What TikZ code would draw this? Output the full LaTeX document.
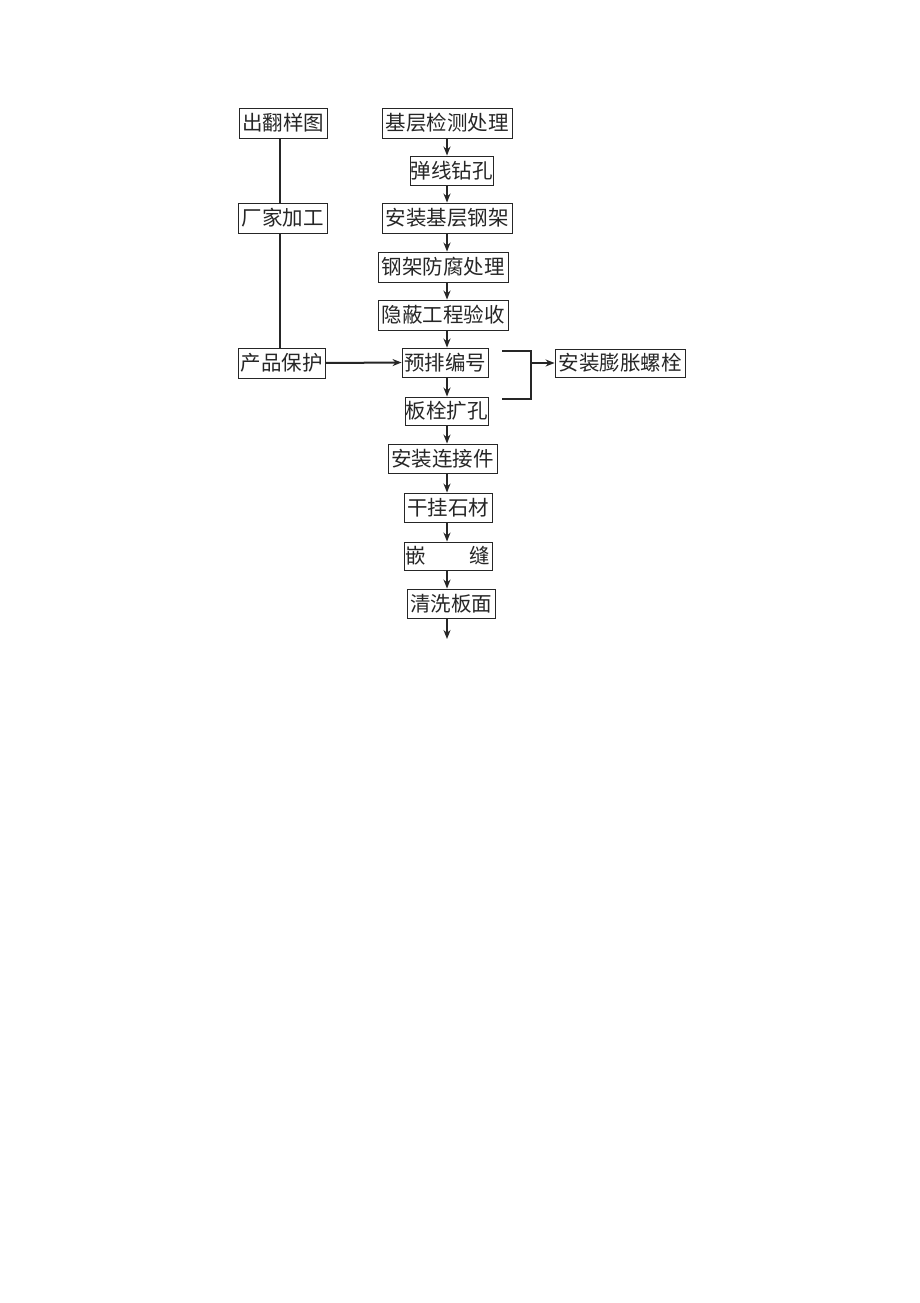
\documentclass[tikz,border=0pt]{standalone}
\usepackage{fontspec}
\newfontfamily\cjk{Noto Sans CJK SC}
\usetikzlibrary{arrows.meta}
\begin{document}
\begin{tikzpicture}[x=1pt,y=-1pt,
  box/.style={draw=black!85, line width=0.9pt, inner sep=0pt, text=black!85,
    font=\cjk\fontsize{20.5}{21}\selectfont},
  arr/.style={-{Stealth[length=9pt,width=7pt]}, line width=1.4pt, draw=black!85},
  ln/.style={line width=1.4pt, draw=black!85}]
\useasboundingbox[fill=white] (0,0) rectangle (920,1303);
% left column
\node[box, minimum width=88pt, minimum height=30pt] (chu) at (283,123) {出翻样图};
\node[box, minimum width=89pt, minimum height=30pt] (chang) at (282.5,218) {厂家加工};
\node[box, minimum width=87pt, minimum height=30pt] (chan) at (281.5,363) {产品保护};
% main column
\node[box, minimum width=130pt, minimum height=30pt] (jc) at (447,123) {基层检测处理};
\node[box, minimum width=83pt, minimum height=29pt] (tx) at (451.5,170.5) {弹线钻孔};
\node[box, minimum width=130pt, minimum height=30pt] (az) at (447,218) {安装基层钢架};
\node[box, minimum width=130pt, minimum height=30pt] (gj) at (443,267) {钢架防腐处理};
\node[box, minimum width=130pt, minimum height=30pt] (yb) at (443,315) {隐蔽工程验收};
\node[box, minimum width=86pt, minimum height=29pt] (yp) at (445,362.5) {预排编号};
\node[box, minimum width=83pt, minimum height=28pt] (bs) at (446.5,411) {板栓扩孔};
\node[box, minimum width=130pt, minimum height=28pt] (pz) at (620,363) {安装膨胀螺栓};
\node[box, minimum width=109pt, minimum height=29pt] (lj) at (442.5,458.5) {安装连接件};
\node[box, minimum width=88pt, minimum height=29pt] (gg) at (448,507.5) {干挂石材};
\node[box, minimum width=88pt, minimum height=28pt] (qf) at (448,556) {\makebox[85pt]{嵌\hfill 缝}};
\node[box, minimum width=88pt, minimum height=29pt] (qx) at (451,603.5) {清洗板面};
% guide coordinates
\coordinate (ax) at (447,0);
\coordinate (lx) at (280,0);
\coordinate (bt) at (502,351);
\coordinate (bm) at (531,363);
\coordinate (bb) at (502,399);
\coordinate (fin) at (447,639);
% left line
\draw[ln] (chu.south -| lx) -- (chang.north -| lx);
\draw[ln] (chang.south -| lx) -- (chan.north -| lx);
% main arrows
\draw[arr] (jc.south -| ax) -- (tx.north -| ax);
\draw[arr] (tx.south -| ax) -- (az.north -| ax);
\draw[arr] (az.south -| ax) -- (gj.north -| ax);
\draw[arr] (gj.south -| ax) -- (yb.north -| ax);
\draw[arr] (yb.south -| ax) -- (yp.north -| ax);
\draw[arr] (yp.south -| ax) -- (bs.north -| ax);
\draw[arr] (bs.south -| ax) -- (lj.north -| ax);
\draw[arr] (lj.south -| ax) -- (gg.north -| ax);
\draw[arr] (gg.south -| ax) -- (qf.north -| ax);
\draw[arr] (qf.south -| ax) -- (qx.north -| ax);
\draw[arr] (qx.south -| ax) -- (fin);
% product protection to pre-arrangement
\draw[arr, line width=2pt] (chan.east) -- (yp.west);
% bracket
\draw[ln] (bt) -| (bm) |- (bb);
\draw[arr] (bm) -- (pz.west);
\end{tikzpicture}
\end{document}
